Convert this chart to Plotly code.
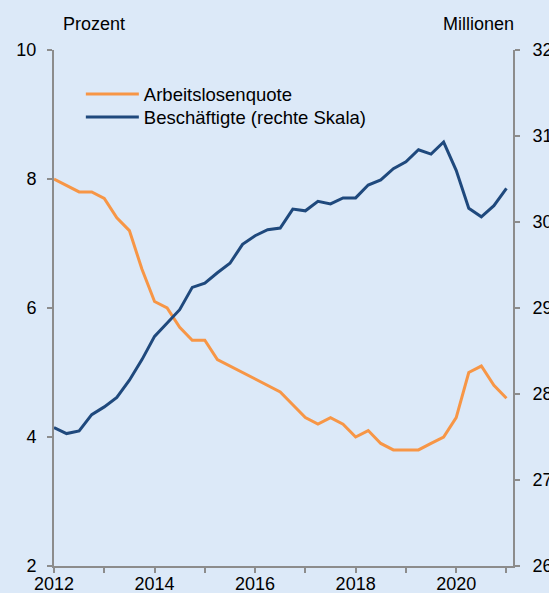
import plotly.graph_objects as go

quarters = ["2012Q1","2012Q2","2012Q3","2012Q4","2013Q1","2013Q2","2013Q3","2013Q4",
            "2014Q1","2014Q2","2014Q3","2014Q4","2015Q1","2015Q2","2015Q3","2015Q4",
            "2016Q1","2016Q2","2016Q3","2016Q4","2017Q1","2017Q2","2017Q3","2017Q4",
            "2018Q1","2018Q2","2018Q3","2018Q4","2019Q1","2019Q2","2019Q3","2019Q4",
            "2020Q1","2020Q2","2020Q3","2020Q4","2021Q1"]

arbeitslosenquote = [8.0, 7.9, 7.8, 7.8, 7.7, 7.4, 7.2, 6.6,
                     6.1, 6.0, 5.7, 5.5, 5.5, 5.2, 5.1, 5.0,
                     4.9, 4.8, 4.7, 4.5, 4.3, 4.2, 4.3, 4.2,
                     4.0, 4.1, 3.9, 3.8, 3.8, 3.8, 3.9, 4.0,
                     4.3, 5.0, 5.1, 4.8, 4.6]

beschaeftigte = [27.61, 27.54, 27.57, 27.76, 27.85, 27.96, 28.16, 28.40,
                 28.67, 28.82, 28.98, 29.24, 29.29, 29.41, 29.52, 29.74,
                 29.84, 29.91, 29.93, 30.15, 30.13, 30.24, 30.21, 30.28,
                 30.28, 30.43, 30.49, 30.62, 30.70, 30.84, 30.79, 30.93,
                 30.60, 30.16, 30.06, 30.19, 30.39]

year_ticks = [2012, 2013, 2014, 2015, 2016, 2017, 2018, 2019, 2020, 2021]
year_labels = ["2012", "", "2014", "", "2016", "", "2018", "", "2020", ""]
left_ticks = [2, 4, 6, 8, 10]
right_ticks = [26, 27, 28, 29, 30, 31, 32]

x = [int(q[:4]) + (int(q[5]) - 1) / 4 for q in quarters]

ORANGE = "#F79646"
BLUE = "#1F497D"
BG = "#DCE9F8"
AX = "#8C8C8C"
FONT = "Liberation Sans, Arial, sans-serif"

fig = go.Figure()
fig.add_trace(go.Scatter(x=x, y=arbeitslosenquote, name="Arbeitslosenquote",
                         mode="lines", line=dict(color=ORANGE, width=3), yaxis="y",
                         legend="legend"))
fig.add_trace(go.Scatter(x=x, y=beschaeftigte, name="Beschäftigte (rechte Skala)",
                         mode="lines", line=dict(color=BLUE, width=3), yaxis="y2",
                         legend="legend2"))

leg_common = dict(xanchor="left", yanchor="top", bgcolor="rgba(0,0,0,0)",
                  font=dict(size=18.5), itemwidth=53)

fig.update_layout(
    width=549, height=593, autosize=False,
    paper_bgcolor=BG, plot_bgcolor=BG,
    margin=dict(l=54, r=36, t=50, b=27, pad=0, autoexpand=False),
    font=dict(family=FONT, size=18, color="#000000"),
    showlegend=True,
    legend=dict(x=0.0585, y=0.9506, **leg_common),
    legend2=dict(x=0.0585, y=0.906, **leg_common),
    xaxis=dict(range=[2012, 2021.13], tickvals=year_ticks, ticktext=year_labels,
               showgrid=False, zeroline=False, showline=True, linecolor=AX, linewidth=2,
               ticks="outside", ticklen=5, tickcolor=AX, tickwidth=2, fixedrange=True,
               automargin=False, ticklabelstandoff=-5),
    yaxis=dict(range=[2, 10], tickvals=left_ticks, showgrid=False, zeroline=False,
               showline=True, linecolor=AX, linewidth=2, ticks="outside", ticklen=5,
               tickcolor=AX, tickwidth=2, ticklabelstandoff=7, fixedrange=True,
               automargin=False),
    yaxis2=dict(range=[26, 32], tickvals=right_ticks, overlaying="y", side="right",
                showgrid=False, zeroline=False, showline=True, linecolor=AX, linewidth=2,
                ticks="outside", ticklen=5, tickcolor=AX, tickwidth=2, ticklabelstandoff=9,
                fixedrange=True, automargin=False),
    annotations=[
        dict(text="Prozent", xref="paper", yref="paper", x=0.015, y=1.0, yshift=26,
             xanchor="left", yanchor="middle", showarrow=False, font=dict(size=18)),
        dict(text="Millionen", xref="paper", yref="paper", x=1.0, y=1.0, yshift=26,
             xshift=3, xanchor="right", yanchor="middle", showarrow=False,
             font=dict(size=18)),
    ],
)

post = ("document.body.style.margin='0';"
        "document.body.style.padding='0';"
        "document.body.style.backgroundColor='" + BG + "';"
        "document.documentElement.style.overflow='hidden';")

fig.write_html("out.html", post_script=post,
               config={"displayModeBar": False, "staticPlot": True})
